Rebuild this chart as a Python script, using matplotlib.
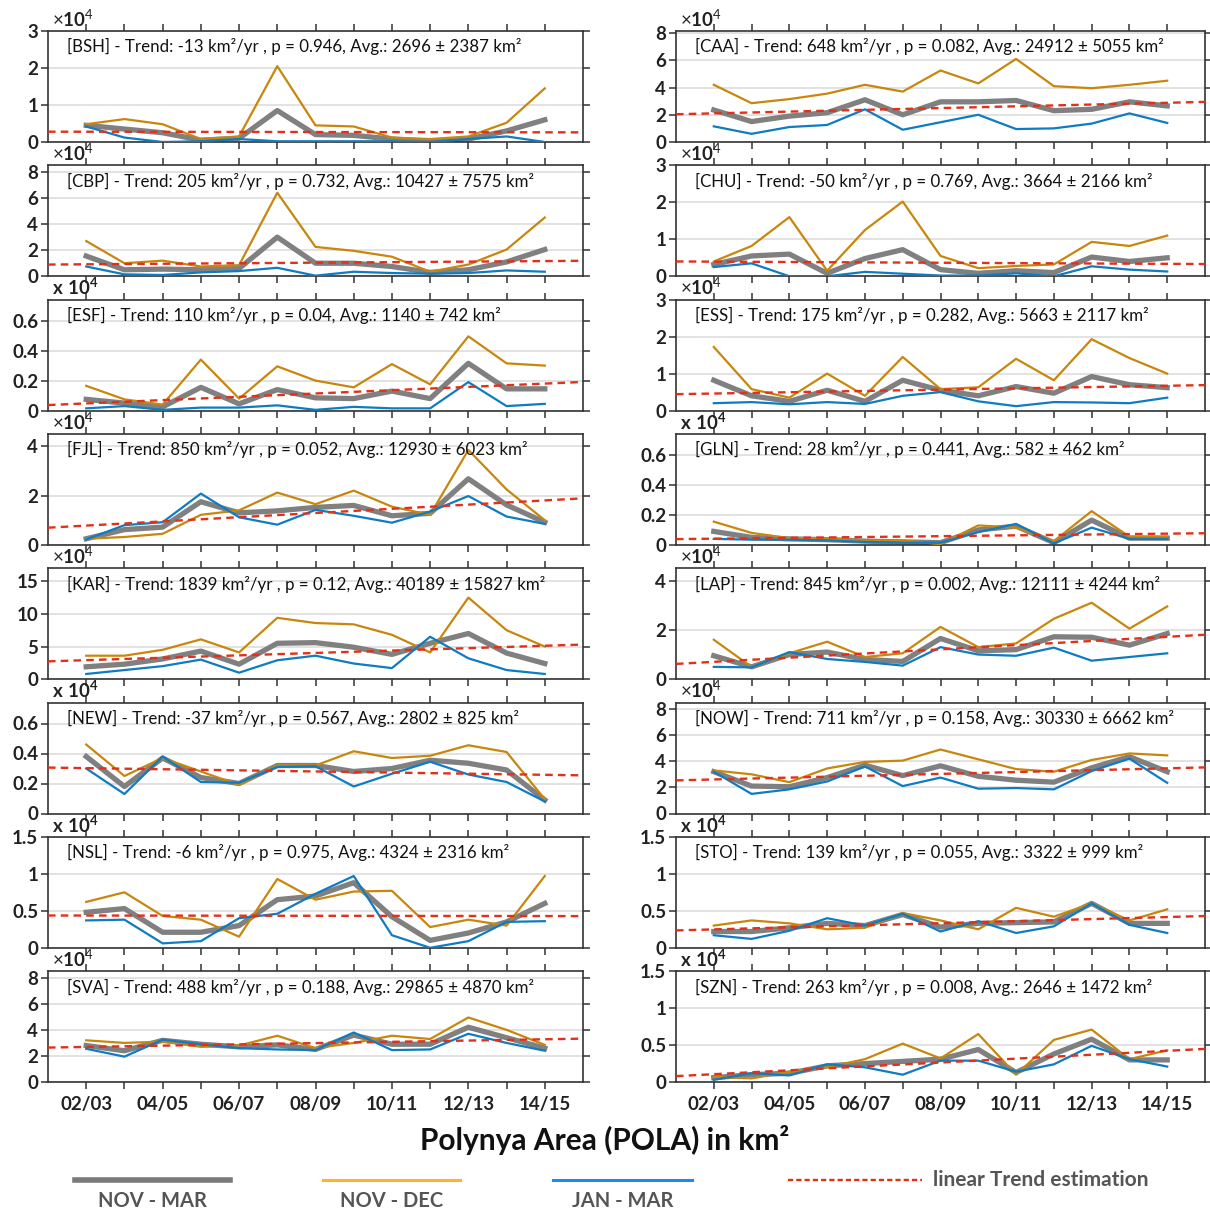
import matplotlib
matplotlib.use('Agg')
import matplotlib.pyplot as plt
from matplotlib.lines import Line2D
from matplotlib.ticker import FuncFormatter
import numpy as np

plt.rcParams['font.family'] = ['Lato', 'DejaVu Sans']
plt.rcParams['mathtext.fontset'] = 'custom'
plt.rcParams['mathtext.rm'] = 'Lato'
plt.rcParams['mathtext.bf'] = 'Lato:bold'

# winter seasons 2002/03 .. 2014/15
seasons = ['02/03', '03/04', '04/05', '05/06', '06/07', '07/08', '08/09',
           '09/10', '10/11', '11/12', '12/13', '13/14', '14/15']

# panel order: left column top to bottom, then right column
regions = ['BSH', 'CBP', 'ESF', 'FJL', 'KAR', 'NEW', 'NSL', 'SVA',
           'CAA', 'CHU', 'ESS', 'GLN', 'LAP', 'NOW', 'STO', 'SZN']

# trend statistics per region (km^2/yr, p-value, mean, std in km^2)
trend = {'BSH': -13, 'CBP': 205, 'ESF': 110, 'FJL': 850, 'KAR': 1839,
         'NEW': -37, 'NSL': -6, 'SVA': 488, 'CAA': 648, 'CHU': -50,
         'ESS': 175, 'GLN': 28, 'LAP': 845, 'NOW': 711, 'STO': 139, 'SZN': 263}
pval = {'BSH': 0.946, 'CBP': 0.732, 'ESF': 0.04, 'FJL': 0.052, 'KAR': 0.12,
        'NEW': 0.567, 'NSL': 0.975, 'SVA': 0.188, 'CAA': 0.082, 'CHU': 0.769,
        'ESS': 0.282, 'GLN': 0.441, 'LAP': 0.002, 'NOW': 0.158, 'STO': 0.055,
        'SZN': 0.008}
avg = {'BSH': 2696, 'CBP': 10427, 'ESF': 1140, 'FJL': 12930, 'KAR': 40189,
       'NEW': 2802, 'NSL': 4324, 'SVA': 29865, 'CAA': 24912, 'CHU': 3664,
       'ESS': 5663, 'GLN': 582, 'LAP': 12111, 'NOW': 30330, 'STO': 3322,
       'SZN': 2646}
std = {'BSH': 2387, 'CBP': 7575, 'ESF': 742, 'FJL': 6023, 'KAR': 15827,
       'NEW': 825, 'NSL': 2316, 'SVA': 4870, 'CAA': 5055, 'CHU': 2166,
       'ESS': 2117, 'GLN': 462, 'LAP': 4244, 'NOW': 6662, 'STO': 999,
       'SZN': 1472}

# polynya area in 10^4 km^2, NOV-MAR mean
nov_mar = {
    'BSH': [0.45, 0.35, 0.25, 0.05, 0.1, 0.85, 0.2, 0.18, 0.08, 0.02, 0.08, 0.3, 0.6],
    'CBP': [1.55, 0.5, 0.55, 0.5, 0.6, 3.0, 1.0, 1.0, 0.75, 0.3, 0.5, 1.1, 2.05],
    'ESF': [0.075, 0.05, 0.025, 0.155, 0.045, 0.14, 0.085, 0.08, 0.13, 0.08, 0.315, 0.145, 0.145],
    'FJL': [0.25, 0.62, 0.72, 1.75, 1.3, 1.38, 1.52, 1.6, 1.18, 1.28, 2.68, 1.62, 0.92],
    'KAR': [1.9, 2.3, 3.1, 4.3, 2.3, 5.5, 5.6, 4.9, 3.8, 5.5, 7.0, 4.0, 2.4],
    'NEW': [0.38, 0.18, 0.37, 0.24, 0.2, 0.32, 0.32, 0.28, 0.3, 0.355, 0.335, 0.29, 0.09],
    'NSL': [0.48, 0.53, 0.21, 0.21, 0.3, 0.65, 0.7, 0.88, 0.42, 0.1, 0.2, 0.35, 0.6],
    'SVA': [2.8, 2.4, 3.2, 2.9, 2.7, 2.85, 2.5, 3.6, 2.9, 2.9, 4.2, 3.4, 2.6],
    'CAA': [2.35, 1.5, 1.9, 2.15, 3.1, 2.0, 2.95, 2.95, 3.05, 2.3, 2.4, 2.95, 2.65],
    'CHU': [0.32, 0.55, 0.6, 0.08, 0.48, 0.72, 0.18, 0.08, 0.15, 0.1, 0.52, 0.4, 0.5],
    'ESS': [0.82, 0.4, 0.25, 0.55, 0.25, 0.82, 0.55, 0.4, 0.65, 0.47, 0.92, 0.7, 0.62],
    'GLN': [0.09, 0.05, 0.04, 0.035, 0.025, 0.02, 0.015, 0.1, 0.125, 0.015, 0.165, 0.045, 0.045],
    'LAP': [0.95, 0.5, 1.0, 1.1, 0.8, 0.72, 1.65, 1.15, 1.2, 1.72, 1.7, 1.38, 1.85],
    'NOW': [3.2, 2.1, 2.05, 2.75, 3.7, 2.9, 3.65, 2.85, 2.55, 2.4, 3.5, 4.35, 3.2],
    'STO': [0.22, 0.22, 0.27, 0.33, 0.3, 0.45, 0.28, 0.33, 0.34, 0.35, 0.6, 0.33, 0.33],
    'SZN': [0.06, 0.1, 0.12, 0.22, 0.25, 0.28, 0.31, 0.44, 0.13, 0.38, 0.58, 0.3, 0.3],
}

# NOV-DEC mean
nov_dec = {
    'BSH': [0.48, 0.62, 0.48, 0.08, 0.15, 2.05, 0.45, 0.42, 0.12, 0.08, 0.15, 0.52, 1.45],
    'CBP': [2.7, 1.0, 1.2, 0.75, 0.85, 6.4, 2.25, 1.95, 1.5, 0.35, 0.9, 2.05, 4.5],
    'ESF': [0.165, 0.075, 0.04, 0.34, 0.08, 0.295, 0.2, 0.155, 0.31, 0.175, 0.495, 0.315, 0.3],
    'FJL': [0.25, 0.32, 0.45, 1.22, 1.4, 2.12, 1.65, 2.2, 1.55, 1.22, 3.85, 2.25, 1.0],
    'KAR': [3.6, 3.6, 4.5, 6.1, 4.1, 9.4, 8.6, 8.4, 6.8, 4.1, 12.5, 7.5, 5.0],
    'NEW': [0.46, 0.25, 0.37, 0.28, 0.19, 0.32, 0.32, 0.415, 0.37, 0.385, 0.455, 0.41, 0.095],
    'NSL': [0.62, 0.75, 0.43, 0.38, 0.15, 0.93, 0.65, 0.76, 0.77, 0.28, 0.38, 0.3, 0.97],
    'SVA': [3.2, 3.0, 3.1, 2.7, 2.8, 3.55, 2.6, 3.0, 3.55, 3.3, 4.95, 4.0, 2.85],
    'CAA': [4.2, 2.85, 3.15, 3.55, 4.2, 3.7, 5.25, 4.3, 6.1, 4.1, 3.95, 4.2, 4.5],
    'CHU': [0.4, 0.82, 1.6, 0.15, 1.25, 2.02, 0.55, 0.22, 0.28, 0.32, 0.93, 0.82, 1.1],
    'ESS': [1.72, 0.58, 0.35, 1.0, 0.4, 1.45, 0.58, 0.63, 1.4, 0.82, 1.93, 1.42, 1.0],
    'GLN': [0.155, 0.08, 0.045, 0.045, 0.03, 0.03, 0.005, 0.13, 0.115, 0.025, 0.225, 0.055, 0.055],
    'LAP': [1.6, 0.5, 1.05, 1.52, 0.9, 1.05, 2.12, 1.3, 1.45, 2.45, 3.1, 2.05, 2.95],
    'NOW': [3.3, 3.0, 2.4, 3.45, 3.95, 4.05, 4.9, 4.15, 3.4, 3.2, 4.1, 4.6, 4.45],
    'STO': [0.3, 0.37, 0.33, 0.25, 0.27, 0.47, 0.37, 0.25, 0.54, 0.42, 0.6, 0.37, 0.52],
    'SZN': [0.07, 0.05, 0.14, 0.2, 0.31, 0.52, 0.32, 0.65, 0.1, 0.57, 0.71, 0.31, 0.43],
}

# JAN-MAR mean
jan_mar = {
    'BSH': [0.42, 0.12, 0.0, 0.02, 0.08, 0.02, 0.02, 0.02, 0.02, 0.0, 0.08, 0.15, 0.0],
    'CBP': [0.75, 0.15, 0.1, 0.3, 0.4, 0.65, 0.05, 0.35, 0.25, 0.2, 0.25, 0.45, 0.35],
    'ESF': [0.015, 0.03, 0.005, 0.02, 0.02, 0.035, 0.005, 0.025, 0.015, 0.015, 0.19, 0.03, 0.045],
    'FJL': [0.22, 0.8, 0.92, 2.08, 1.12, 0.82, 1.42, 1.18, 0.9, 1.35, 1.98, 1.15, 0.85],
    'KAR': [0.8, 1.4, 2.0, 3.0, 1.0, 2.9, 3.6, 2.4, 1.7, 6.5, 3.2, 1.4, 0.8],
    'NEW': [0.3, 0.13, 0.38, 0.21, 0.205, 0.31, 0.315, 0.18, 0.265, 0.345, 0.26, 0.21, 0.08],
    'NSL': [0.37, 0.38, 0.06, 0.09, 0.4, 0.46, 0.73, 0.97, 0.17, 0.0, 0.09, 0.35, 0.36],
    'SVA': [2.55, 1.95, 3.25, 2.9, 2.6, 2.5, 2.45, 3.8, 2.45, 2.5, 3.7, 3.0, 2.4],
    'CAA': [1.15, 0.6, 1.1, 1.25, 2.4, 0.9, 1.45, 2.0, 0.95, 1.0, 1.35, 2.1, 1.4],
    'CHU': [0.25, 0.35, 0.0, 0.0, 0.12, 0.07, 0.02, 0.02, 0.08, 0.0, 0.27, 0.18, 0.13],
    'ESS': [0.2, 0.23, 0.17, 0.23, 0.18, 0.4, 0.5, 0.25, 0.12, 0.23, 0.22, 0.2, 0.35],
    'GLN': [0.04, 0.035, 0.035, 0.03, 0.02, 0.015, 0.015, 0.085, 0.14, 0.01, 0.115, 0.04, 0.04],
    'LAP': [0.5, 0.48, 1.1, 0.82, 0.7, 0.55, 1.3, 1.0, 0.95, 1.28, 0.75, 0.9, 1.05],
    'NOW': [3.2, 1.5, 1.85, 2.45, 3.6, 2.1, 2.75, 1.9, 1.95, 1.85, 3.25, 4.2, 2.35],
    'STO': [0.17, 0.12, 0.23, 0.4, 0.3, 0.46, 0.22, 0.36, 0.2, 0.29, 0.6, 0.31, 0.2],
    'SZN': [0.03, 0.12, 0.09, 0.24, 0.2, 0.1, 0.29, 0.29, 0.14, 0.24, 0.49, 0.31, 0.21],
}

# y axis range and ticks (10^4 km^2)
ymax = {'BSH': 3, 'CBP': 8.5, 'ESF': 0.74, 'FJL': 4.5, 'KAR': 17, 'NEW': 0.74,
        'NSL': 1.5, 'SVA': 8.5, 'CAA': 8.15, 'CHU': 3, 'ESS': 3, 'GLN': 0.74,
        'LAP': 4.5, 'NOW': 8.5, 'STO': 1.5, 'SZN': 1.5}
ystep = {'BSH': 1, 'CBP': 2, 'ESF': 0.2, 'FJL': 2, 'KAR': 5, 'NEW': 0.2,
         'NSL': 0.5, 'SVA': 2, 'CAA': 2, 'CHU': 1, 'ESS': 1, 'GLN': 0.2,
         'LAP': 2, 'NOW': 2, 'STO': 0.5, 'SZN': 0.5}
# some panels carry the hand-typed 'x 10^4' multiplier
typed_mult = ['ESF', 'GLN', 'NEW', 'NSL', 'STO', 'SZN']

c_all = '#808080'
c_nd = '#C8870C'
c_jm = '#0E7CC2'
c_tr = '#E2301A'

W, H = 1210, 1212
fig = plt.figure(figsize=(W / 100, H / 100), dpi=100)


def add_ax(left, top, width, height):
    return fig.add_axes([left / W, 1 - (top + height) / H, width / W, height / H])


x = np.arange(len(seasons))
xt = np.array([-1, 13])
col_left = [48, 676]
col_width = [535, 529]

for k, reg in enumerate(regions):
    col, row = divmod(k, 8)
    ax = add_ax(col_left[col], 31 + 134.3 * row, col_width[col], 111)

    ax.plot(x, nov_mar[reg], color=c_all, lw=3.8, solid_joinstyle='round', zorder=2)
    ax.plot(x, nov_dec[reg], color=c_nd, lw=1.6, zorder=3)
    ax.plot(x, jan_mar[reg], color=c_jm, lw=1.6, zorder=4)
    # linear fit through the seasonal means, centred on the period mean
    yt = (avg[reg] + trend[reg] * (xt - x.mean())) / 1e4
    ax.plot(xt, yt, color=c_tr, lw=1.7, dashes=(3.2, 2.2), zorder=5)

    ax.set_xlim(-1, 13)
    ax.set_ylim(0, ymax[reg])
    ax.set_yticks(np.arange(0, ymax[reg] + 1e-6, ystep[reg]))
    ax.yaxis.set_major_formatter(FuncFormatter(lambda v, p: '%g' % round(v, 3)))
    ax.set_xticks(x)
    if row == 7:
        ax.set_xticklabels([s if i % 2 == 0 else '' for i, s in enumerate(seasons)])
    else:
        ax.set_xticklabels([])
    ax.tick_params(direction='out', top=True, right=True, length=5, width=1.1,
                   color='#333333', labelsize=13.5, pad=2)
    ax.tick_params(axis='x', pad=5, labelsize=13.5)
    for lab in ax.get_yticklabels() + ax.get_xticklabels():
        lab.set_fontweight('bold')
        lab.set_color('#222222')
    for sp in ax.spines.values():
        sp.set_color('#333333')
        sp.set_linewidth(1.2)
    ax.yaxis.grid(True, color='#e2e2e2', lw=1.4)
    ax.set_axisbelow(True)

    label = '[%s] - Trend: %d km²/yr , p = %g, Avg.: %d ± %d km²' % (
        reg, trend[reg], pval[reg], avg[reg], std[reg])
    ax.annotate(label, xy=(0, 1), xycoords='axes fraction',
                xytext=(14, -11.5), textcoords='offset points',
                fontsize=12.2, va='center', ha='left', color='#111111', zorder=6)

    if reg in typed_mult:
        mult = r'$\mathbf{x\ 10^{4}}$'
    else:
        mult = r'$\times\mathbf{10}^{4}$'
    ax.annotate(mult, xy=(0, 1), xycoords='axes fraction',
                xytext=(3, 1), textcoords='offset points',
                fontsize=13.5, va='bottom', ha='left', color='#222222',
                annotation_clip=False)

fig.text(605 / W, 1 - 1140 / H, 'Polynya Area (POLA) in km²', fontsize=21.5,
         fontweight='bold', ha='center', va='center', color='#111111')

# legend row below the panels
leg_y = 1 - 1180 / H
legend_items = [
    (75, 230, '#7a7a7a', 4.0, 'NOV - MAR'),
    (323, 460, '#FFB22E', 2.2, 'NOV - DEC'),
    (553, 692, '#2487EE', 2.2, 'JAN - MAR'),
]
for x0, x1, c, lw, txt in legend_items:
    fig.add_artist(Line2D([x0 / W, x1 / W], [leg_y, leg_y], color=c, lw=lw,
                          transform=fig.transFigure))
    fig.text((x0 + x1) / 2 / W, 1 - 1201 / H, txt, fontsize=14.5, fontweight='bold',
             ha='center', va='center', color='#555555')
fig.add_artist(Line2D([788 / W, 922 / W], [leg_y, leg_y], color=c_tr, lw=1.7,
                      dashes=(2.2, 1.3), transform=fig.transFigure))
fig.text(933 / W, 1 - 1180 / H, 'linear Trend estimation', fontsize=15,
         fontweight='bold', ha='left', va='center', color='#555555')

fig.savefig('out.png', dpi=100)
